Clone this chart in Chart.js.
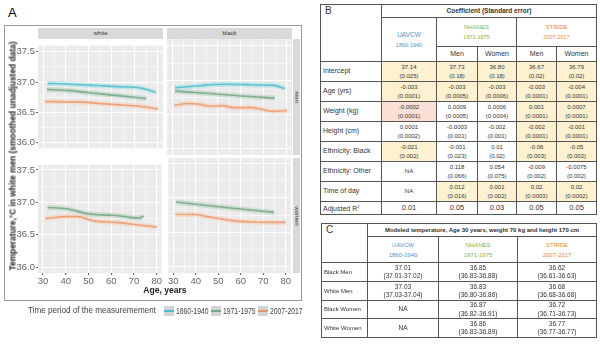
<!DOCTYPE html>
<html>
<head>
<meta charset="utf-8">
<script src="https://cdn.jsdelivr.net/npm/chart.js@4.4.0/dist/chart.umd.min.js"></script>
<style>
  body { margin:0; width:600px; height:345px; background:#fff; position:relative; overflow:hidden; font-family:"Liberation Sans", Arial, sans-serif; }
  .abs { position:absolute; }
  canvas { position:absolute; }
  .strip { position:absolute; background:#d9d9d9; color:#333; font-size:6px; text-align:center; }
  .vstrip { position:absolute; background:#d9d9d9; color:#333; font-size:6px; }
  .vstrip span { position:absolute; left:50%; top:50%; transform:translate(-50%,-50%) rotate(90deg); white-space:nowrap; }
  table { position:absolute; border-collapse:collapse; table-layout:fixed; color:#333; }
  td { border:1px solid #555; padding:0; text-align:center; vertical-align:middle; font-size:6px; line-height:8.5px; overflow:hidden; }
  td.lab { text-align:left; padding-left:2px; font-size:7px; }
  .uav { color:#4f94cd; } .nha { color:#7ab648; } .str { color:#e8872f; }
  .y { background:#fdf1cf; } .p { background:#fadfd6; }
  .key { position:absolute; width:10px; height:10px; background:#d4d4d4; }
  .key i { position:absolute; left:0; right:0; top:4px; height:1.5px; }
</style>
</head>
<body>
<div class="abs" style="left:8px;top:5px;font-size:13px;">A</div>
<div class="abs" style="left:4px;top:25px;width:296px;height:274px;border:1px solid #999;"></div>

<div class="strip" style="left:38px;top:28px;width:125px;height:11px;line-height:11px;">white</div>
<div class="strip" style="left:167px;top:28px;width:125px;height:11px;line-height:11px;">black</div>
<div class="vstrip" style="left:293px;top:39px;width:7px;height:116px;"><span>men</span></div>
<div class="vstrip" style="left:293px;top:158px;width:7px;height:115px;"><span>women</span></div>

<canvas id="tl" width="159" height="116" style="left:4px;top:39px;"></canvas>
<canvas id="tr" width="125" height="116" style="left:167px;top:39px;"></canvas>
<canvas id="bl" width="159" height="130" style="left:4px;top:158px;"></canvas>
<canvas id="br" width="125" height="130" style="left:167px;top:158px;"></canvas>

<div class="abs" style="left:12px;top:156px;transform:translate(-50%,-50%) rotate(-90deg) scaleX(0.88);white-space:nowrap;font-weight:bold;font-size:9.5px;color:#222;">Temperature,°C in white men (smoothed unadjusted data)</div>
<div class="abs" style="left:165px;top:289px;transform:translate(-50%,-50%) scaleX(0.9);white-space:nowrap;font-weight:bold;font-size:9.5px;color:#222;">Age, years</div>

<div id="legend"></div>

<table id="tabB" style="left:320px;top:4px;width:276px;"></table>
<table id="tabC" style="left:321px;top:223px;width:275px;"></table>

<script>
// ---- chart data (age, temperature) ----
const periods = ['1860-1940', '1971-1975', '2007-2017'];
const periodColors = ['#4db8c6', '#74a887', '#e8946a'];
const periodBands = ['rgba(120,215,225,0.35)', 'rgba(150,190,160,0.35)', 'rgba(250,190,150,0.35)'];

const whiteMenUAVCW  = [[32,36.98],[40,36.97],[50,36.95],[60,36.93],[66,36.92],[70,36.915],[73,36.9],[76,36.87],[79,36.83]];
const whiteMenNHANES = [[31.7,36.88],[41.6,36.86],[54,36.81],[64.6,36.77],[75,36.73]];
const whiteMenSTRIDE = [[30.8,36.68],[40,36.675],[47.8,36.67],[54,36.65],[62,36.63],[70,36.61],[80,36.56]];

const blackMenUAVCW  = [[31.3,36.89],[42,36.92],[53.8,36.94],[62,36.935],[68,36.93],[74,36.925],[79,36.88]];
const blackMenNHANES = [[31.3,36.84],[45,36.81],[60,36.77],[74.8,36.74]];
const blackMenSTRIDE = [[31,36.63],[36.5,36.66],[42,36.65],[46,36.62],[52,36.63],[56.5,36.6],[65,36.6],[71,36.56],[74,36.545],[80,36.56]];

const whiteWomenNHANES = [[32,36.92],[40.3,36.9],[50.4,36.82],[60.4,36.8],[66,36.78],[70,36.76],[72.4,36.76],[74.2,36.79]];
const whiteWomenSTRIDE = [[31,36.75],[40.3,36.78],[44.6,36.78],[53,36.71],[62,36.69],[72,36.65],[80,36.62]];

const blackWomenNHANES = [[31.3,36.94],[45,36.89],[60,36.84],[74.8,36.79]];
const blackWomenSTRIDE = [[31,36.76],[39.7,36.76],[45,36.73],[56.5,36.67],[65,36.65],[72,36.645],[80,36.645]];

const xTicks = [30,35,40,45,50,55,60,65,70,75,80];
const yTicks = [36.0,36.25,36.5,36.75,37.0,37.25,37.5];

// ---- table data ----
const tabBRows = ['Intercept','Age (yrs)','Weight (kg)','Height (cm)','Ethnicity: Black','Ethnicity: Other','Time of day','Adjusted R<sup style="font-size:4px">2</sup>'];
const tabBVals = [
  ['37.14|(0.025)','37.73|(0.18)','36.80|(0.18)','36.67|(0.02)','36.79|(0.02)'],
  ['-0.003|(0.0001)','-0.003|(0.0005)','-0.003|(0.0006)','-0.003|(0.0001)','-0.004|(0.0001)'],
  ['-0.0002|(0.0001)','0.0009|(0.0005)','0.0006|(0.0004)','0.001|(0.0001)','0.0007|(0.0001)'],
  ['0.0001|(0.0002)','-0.0003|(0.001)','-0.002|(0.001)','-0.002|(0.0001)','-0.001|(0.0001)'],
  ['-0.021|(0.002)','-0.001|(0.023)','0.01|(0.02)','-0.06|(0.003)','-0.05|(0.002)'],
  ['NA','0.118|(0.066)','0.054|(0.075)','-0.009|(0.002)','-0.0075|(0.002)'],
  ['NA','0.012|(0.016)','0.001|(0.002)','0.02|(0.0003)','0.02|(0.0002)'],
  ['0.01','0.05','0.03','0.05','0.05']
];
const tabBFill = [
  ['y','y','y','y','y'],
  ['y','y','y','y','y'],
  ['p','','','y','y'],
  ['','','','y','y'],
  ['y','','','y','y'],
  ['','','','',''],
  ['','y','y','y','y'],
  ['','','','','']
];
const tabCRows = ['Black Men','White Men','Black Women','White Women'];
const tabCVals = [
  ['37.01|(37.01-37.02)','36.85|(36.83-36.88)','36.62|(36.61-36.63)'],
  ['37.03|(37.03-37.04)','36.83|(36.80-36.86)','36.68|(36.68-36.68)'],
  ['NA','36.87|(36.82-36.91)','36.72|(36.71-36.73)'],
  ['NA','36.86|(36.83-36.89)','36.77|(36.77-36.77)']
];

const panelBg = {
  id: 'panelBg',
  beforeDraw(c) {
    const { ctx, chartArea: a } = c;
    ctx.save();
    ctx.fillStyle = '#ebebeb';
    ctx.fillRect(a.left, a.top, a.width, a.height);
    ctx.restore();
  }
};

const isMajorX = v => v % 10 === 0;
const isMajorY = v => Math.abs(v * 2 - Math.round(v * 2)) < 1e-6;

function makeFacet(id, series, showX, showY, yMax) {
  const datasets = [];
  series.forEach(s => {
    const pts = s.data.map(p => ({ x: p[0], y: p[1] }));
    datasets.push({ data: pts, borderColor: periodBands[s.p], borderWidth: 5, pointRadius: 0, tension: 0.4, cubicInterpolationMode: 'monotone' });
    datasets.push({ data: pts, borderColor: periodColors[s.p], borderWidth: 1.6, pointRadius: 0, tension: 0.4, cubicInterpolationMode: 'monotone' });
  });
  try {
    new Chart(document.getElementById(id), {
      type: 'line',
      data: { datasets },
      plugins: [panelBg],
      options: {
        responsive: false,
        animation: false,
        layout: { padding: 0 },
        plugins: { legend: { display: false }, tooltip: { enabled: false } },
        scales: {
          x: {
            type: 'linear', min: 27.8, max: 82.2,
            afterBuildTicks: s => { s.ticks = xTicks.map(v => ({ value: v })); },
            afterFit: s => { s.height = showX ? 15 : 0; },
            border: { display: false },
            grid: {
              color: '#ffffff',
              lineWidth: c => isMajorX(c.tick.value) ? 1.1 : 0.5,
              drawTicks: showX, tickLength: 2,
              tickColor: c => isMajorX(c.tick.value) ? '#666' : 'rgba(0,0,0,0)'
            },
            ticks: {
              display: showX, padding: 1, color: '#666', maxRotation: 0, autoSkip: false,
              font: { family: 'Liberation Sans', size: 9.5 },
              callback: v => isMajorX(v) ? String(v) : ''
            }
          },
          y: {
            type: 'linear', min: 35.91, max: yMax,
            afterBuildTicks: s => { s.ticks = yTicks.map(v => ({ value: v })); },
            afterFit: s => { s.width = showY ? 34 : 0; },
            border: { display: false },
            grid: {
              color: '#ffffff',
              lineWidth: c => isMajorY(c.tick.value) ? 1.1 : 0.5,
              drawTicks: showY, tickLength: 2,
              tickColor: c => isMajorY(c.tick.value) ? '#666' : 'rgba(0,0,0,0)'
            },
            ticks: {
              display: showY, padding: 1, color: '#666', autoSkip: false,
              font: { family: 'Liberation Sans', size: 9.5 },
              callback: v => isMajorY(v) ? v.toFixed(1) : ''
            }
          }
        }
      }
    });
  } catch (e) { console.error('Crash in facet ' + id, e); }
}

makeFacet('tl', [{ p: 0, data: whiteMenUAVCW }, { p: 1, data: whiteMenNHANES }, { p: 2, data: whiteMenSTRIDE }], false, true, 37.6);
makeFacet('tr', [{ p: 0, data: blackMenUAVCW }, { p: 1, data: blackMenNHANES }, { p: 2, data: blackMenSTRIDE }], false, false, 37.6);
makeFacet('bl', [{ p: 1, data: whiteWomenNHANES }, { p: 2, data: whiteWomenSTRIDE }], true, true, 37.58);
makeFacet('br', [{ p: 1, data: blackWomenNHANES }, { p: 2, data: blackWomenSTRIDE }], true, false, 37.58);

// legend
const lg = document.getElementById('legend');
let html = '<div class="abs" style="left:28px;top:305px;font-size:9px;color:#444;white-space:nowrap;transform-origin:left;transform:scaleX(0.9)">Time period of the measuremement</div>';
const keyX = [164, 211, 258];
periods.forEach((p, i) => {
  html += `<div class="key" style="left:${keyX[i]}px;top:306px;"><i style="background:${periodColors[i]}"></i></div>`;
  html += `<div class="abs" style="left:${keyX[i] + 12}px;top:306px;font-size:8.5px;color:#444;white-space:nowrap;transform-origin:left;transform:scaleX(0.8)">${p}</div>`;
});
lg.innerHTML = html;

// tables
const cell = (v, cls, extra) => `<td class="${cls || ''}" ${extra || ''}>${v.split('|').join('<br>')}</td>`;
let b = '<colgroup><col style="width:61px"><col style="width:55px"><col style="width:41px"><col style="width:39px"><col style="width:40px"><col style="width:40px"></colgroup>';
b += '<tr style="height:13px"><td rowspan="3" class="lab" style="vertical-align:top;font-size:10px;padding-top:2px;padding-left:4px">B</td><td colspan="5" style="font-weight:bold;font-size:6.5px">Coefficient (Standard error)</td></tr>';
b += '<tr style="height:29px"><td rowspan="2" class="uav" style="font-size:6.5px;line-height:10px">UAVCW<br><span style="font-size:5.5px">1860-1940</span></td>' +
     '<td colspan="2" class="nha" style="font-size:6px;line-height:10px">NHANES<br><span style="font-size:5.5px">1971-1975</span></td>' +
     '<td colspan="2" class="str" style="font-size:6px;line-height:10px">STRIDE<br><span style="font-size:5.5px">2007-2017</span></td></tr>';
b += '<tr style="height:15px"><td style="font-size:7px">Men</td><td style="font-size:7px">Women</td><td style="font-size:7px">Men</td><td style="font-size:7px">Women</td></tr>';
tabBRows.forEach((r, i) => {
  const last = i === tabBRows.length - 1;
  b += `<tr style="height:${last ? 13 : 20}px"><td class="lab">${r}</td>`;
  tabBVals[i].forEach((v, j) => { b += cell(v, tabBFill[i][j], last ? 'style="font-size:7.5px"' : ''); });
  b += '</tr>';
});
document.getElementById('tabB').innerHTML = b;

let c = '<colgroup><col style="width:46px"><col style="width:71px"><col style="width:79px"><col style="width:79px"></colgroup>';
c += '<tr style="height:13px"><td rowspan="2" class="lab" style="vertical-align:top;font-size:10px;padding-top:2px;padding-left:4px">C</td><td colspan="3" style="font-weight:bold;font-size:6px">Modeled temperature, Age 30 years, weight 70 kg and height 170 cm</td></tr>';
c += '<tr style="height:26px"><td class="uav" style="font-size:6px;line-height:10px">UAVCW<br>1860-1940</td><td class="nha" style="font-size:6px;line-height:10px">NHANES<br>1971-1975</td><td class="str" style="font-size:6px;line-height:10px">STRIDE<br>2007-2017</td></tr>';
const cH = [19, 19, 18, 19];
tabCRows.forEach((r, i) => {
  c += `<tr style="height:${cH[i]}px"><td class="lab" style="font-size:6px">${r}</td>`;
  tabCVals[i].forEach(v => { c += cell(v, '', 'style="font-size:6.5px"'); });
  c += '</tr>';
});
document.getElementById('tabC').innerHTML = c;
</script>
</body>
</html>
